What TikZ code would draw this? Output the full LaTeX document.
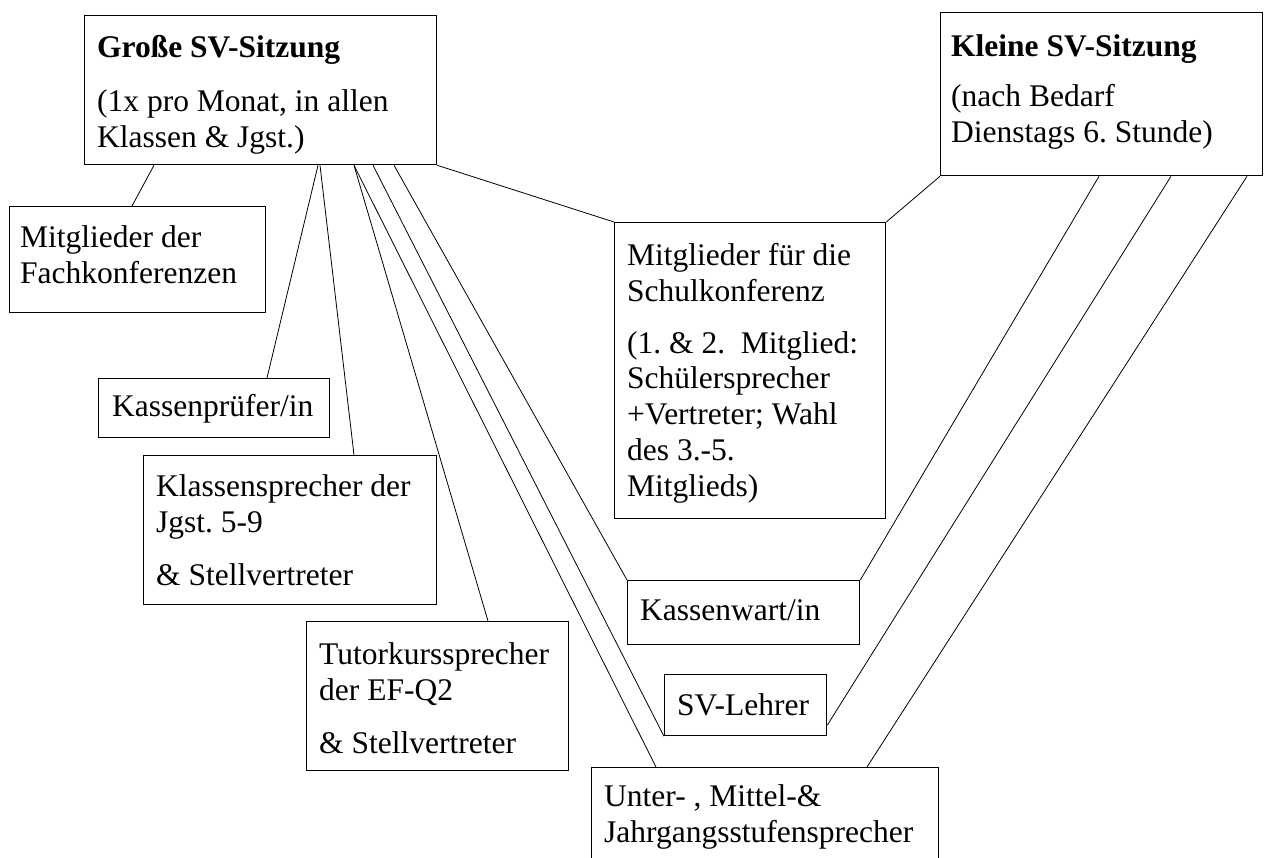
\documentclass[tikz,border=0pt]{standalone}
\usepackage{fontspec}
\setmainfont{Liberation Serif}
\frenchspacing
\begin{document}
\begin{tikzpicture}[x=1pt,y=-1pt,
  box/.style={draw, line width=1.3pt, inner sep=0pt, anchor=north west},
  txt/.style={anchor=base west, align=left, inner sep=0pt, font=\fontsize{31.5}{35.7}\selectfont},
  conn/.style={line width=0.8pt}]
\clip (0,0) rectangle (1266,857);
\fill[white] (0,0) rectangle (1266,857);
% boxes
\node[box, minimum width=352pt, minimum height=149pt] (gr) at (84,15) {};
\node[box, minimum width=322pt, minimum height=163pt] (kl) at (940,12) {};
\node[box, minimum width=256pt, minimum height=106pt] (mf) at (9,206) {};
\node[box, minimum width=231pt, minimum height=59pt] (kp) at (98,378) {};
\node[box, minimum width=293pt, minimum height=149pt] (ks) at (143,455) {};
\node[box, minimum width=262pt, minimum height=149pt] (tu) at (306,621) {};
\node[box, minimum width=271pt, minimum height=296pt] (sk) at (614,222) {};
\node[box, minimum width=232pt, minimum height=64pt] (kw) at (627,580) {};
\node[box, minimum width=162pt, minimum height=61pt] (sv) at (664,674) {};
\node[box, minimum width=347pt, minimum height=120pt] (un) at (591,767) {};
% texts (anchored at the baseline of the last line)
\node[txt] (grt) at (97,147) {\textbf{Große SV-Sitzung}\\[18pt](1x pro Monat, in allen\\Klassen \& Jgst.)};
\node[txt] (klt) at (951,142) {\textbf{Kleine SV-Sitzung}\\[14pt](nach Bedarf\\Dienstags 6. Stunde)};
\node[txt] (mft) at (20,283) {Mitglieder der\\Fachkonferenzen};
\node[txt] (kpt) at (112,416) {Kassenprüfer/in};
\node[txt] (kst) at (156,585) {Klassensprecher der\\Jgst. 5-9\\[17pt]\& Stellvertreter};
\node[txt] (tut) at (319,753) {Tutorkurssprecher\\der EF-Q2\\[17pt]\& Stellvertreter};
\node[txt] (skt) at (627,496) {Mitglieder für die\\Schulkonferenz\\[16pt](1. \& 2.\ \ Mitglied:\\Schülersprecher\\+Vertreter; Wahl\\des 3.-5.\\Mitglieds)};
\node[txt] (kwt) at (640,620) {Kassenwart/in};
\node[txt] (svt) at (677,715) {SV-Lehrer};
\node[txt] (unt) at (604,842) {Unter- , Mittel-\&\\Jahrgangsstufensprecher};
% connectors
\draw[conn] ([xshift=70pt]gr.south west) -- ([xshift=123pt]mf.north west);
\draw[conn] ([xshift=234pt]gr.south west) -- ([xshift=169pt]kp.north west);
\draw[conn] ([xshift=236pt]gr.south west) -- ([xshift=211pt]ks.north west);
\draw[conn] ([xshift=270pt]gr.south west) -- ([xshift=182pt]tu.north west);
\draw[conn] ([xshift=270pt]gr.south west) -- ([xshift=65pt]un.north west);
\draw[conn] ([xshift=289pt]gr.south west) -- (sv.south west);
\draw[conn] ([xshift=310pt]gr.south west) -- (kw.north west);
\draw[conn] (gr.south east) -- (sk.north west);
\draw[conn] (kl.south west) -- (sk.north east);
\draw[conn] ([xshift=159pt]kl.south west) -- (kw.north east);
\draw[conn] ([xshift=231pt]kl.south west) -- ([yshift=-20pt]sv.east);
\draw[conn] ([xshift=307pt]kl.south west) -- ([xshift=276pt]un.north west);
\end{tikzpicture}
\end{document}
